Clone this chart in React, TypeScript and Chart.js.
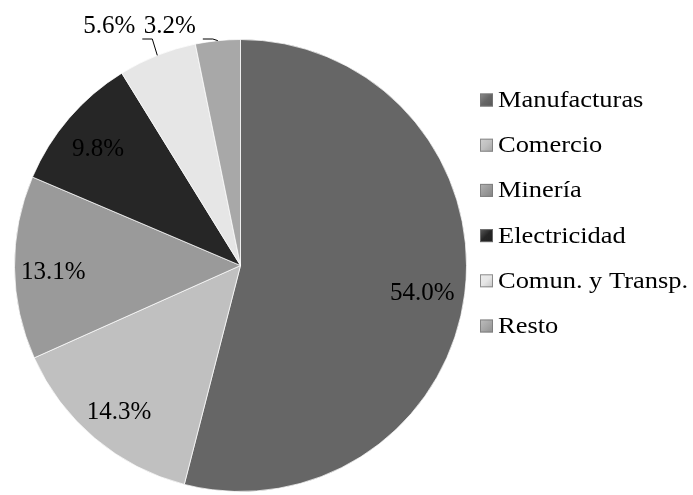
import React, { useEffect, useRef } from "react";
import { Chart, registerables } from "chart.js";

Chart.register(...registerables);

const categories = ["Manufacturas", "Comercio", "Minería", "Electricidad", "Comun. y Transp.", "Resto"];
const shares = [54.0, 14.3, 13.1, 9.8, 5.6, 3.2];
const sliceColors = ["#666666", "#c0c0c0", "#9a9a9a", "#262626", "#e6e6e6", "#a8a8a8"];

const FONT_FAMILY = "'Times New Roman', 'Liberation Serif', Tinos, serif";

function shade(hex: string, amt: number): string {
  const n = parseInt(hex.slice(1), 16);
  const f = (c: number) => Math.max(0, Math.min(255, Math.round(c + (amt > 0 ? (255 - c) * amt : c * amt))));
  const r = f((n >> 16) & 255), g = f((n >> 8) & 255), b = f(n & 255);
  return `rgb(${r},${g},${b})`;
}

const labelPlugin = {
  id: "pctLabels",
  afterDatasetsDraw(chart: any) {
    const ctx = chart.ctx;
    const meta = chart.getDatasetMeta(0);
    const data = chart.data.datasets[0].data as number[];
    ctx.save();
    ctx.font = "25px " + FONT_FAMILY;
    ctx.fillStyle = "#000";
    ctx.textBaseline = "middle";
    meta.data.forEach((arc: any, i: number) => {
      const { x, y, startAngle, endAngle, outerRadius } = arc.getProps(["x", "y", "startAngle", "endAngle", "outerRadius"], true);
      const mid = (startAngle + endAngle) / 2;
      const txt = data[i].toFixed(1) + "%";
      if (data[i] >= 7) {
        const r = outerRadius * 0.82;
        ctx.textAlign = "center";
        ctx.fillText(txt, x + Math.cos(mid) * r - 2, y + Math.sin(mid) * r + 5);
      } else {
        const px = x + Math.cos(mid) * outerRadius;
        const py = y + Math.sin(mid) * outerRadius;
        const ey = y - outerRadius - 0.5;
        const ex = px - 5;
        const endX = ex - 10;
        ctx.strokeStyle = "#000";
        ctx.lineWidth = 1;
        ctx.beginPath();
        ctx.moveTo(px, py);
        ctx.lineTo(ex, ey);
        ctx.lineTo(endX, ey);
        ctx.stroke();
        ctx.textAlign = "right";
        ctx.fillText(txt, endX - 7, ey - 13);
      }
    });
    ctx.restore();
  },
};

const legendPlugin = {
  id: "sideLegend",
  afterDraw(chart: any) {
    const ctx = chart.ctx;
    const labels = chart.data.labels as string[];
    const top = 100;
    const step = 45.2;
    ctx.save();
    labels.forEach((lab, i) => {
      const cy = top + i * step;
      const sx = 480, sz = 13;
      const g = ctx.createLinearGradient(sx, cy - sz / 2, sx + sz, cy + sz / 2);
      g.addColorStop(0, shade(sliceColors[i], 0.25));
      g.addColorStop(0.5, sliceColors[i]);
      g.addColorStop(1, shade(sliceColors[i], -0.15));
      ctx.fillStyle = g;
      ctx.fillRect(sx, cy - sz / 2, sz, sz);
      ctx.strokeStyle = "rgba(120,120,120,0.8)";
      ctx.lineWidth = 1;
      ctx.strokeRect(sx + 0.5, cy - sz / 2 + 0.5, sz - 1, sz - 1);
      ctx.save();
      ctx.translate(498, cy);
      ctx.scale(1.15, 1);
      ctx.font = "23px " + FONT_FAMILY;
      ctx.fillStyle = "#000";
      ctx.textAlign = "left";
      ctx.textBaseline = "middle";
      ctx.fillText(lab, 0, 1);
      ctx.restore();
    });
    ctx.restore();
  },
};

export default function App() {
  const ref = useRef<HTMLCanvasElement | null>(null);
  useEffect(() => {
    if (!ref.current) return;
    const chart = new Chart(ref.current, {
      type: "pie",
      data: {
        labels: categories,
        datasets: [
          {
            data: shares,
            backgroundColor: (c: any) => {
              const i = c.dataIndex;
              const base = sliceColors[i];
              const el = c.element;
              if (!el || !c.chart.chartArea) return base;
              const { x, y, outerRadius } = el.getProps(["x", "y", "outerRadius"], true);
              if (!outerRadius) return base;
              const g = c.chart.ctx.createRadialGradient(x, y, 0, x, y, outerRadius);
              g.addColorStop(0, base);
              g.addColorStop(0.92, base);
              g.addColorStop(0.97, shade(base, 0.25));
              g.addColorStop(1, shade(base, 0.05));
              return g;
            },
            borderColor: "rgba(255,255,255,0.7)",
            borderWidth: 1,
          },
        ],
      },
      options: {
        responsive: false,
        animation: false,
        layout: { padding: { top: 39, bottom: 3, left: 14, right: 226 } },
        plugins: {
          legend: { display: false },
          tooltip: { enabled: false },
        },
      },
      plugins: [labelPlugin, legendPlugin],
    });
    let alive = true;
    const redraw = () => { if (alive) chart.draw(); };
    if ((document as any).fonts) {
      (document as any).fonts.ready.then(redraw);
    }
    const t = setTimeout(redraw, 50);
    return () => { alive = false; clearTimeout(t); chart.destroy(); };
  }, []);
  return (
    <div style={{ position: "fixed", left: 0, top: 0, width: 693, height: 495, background: "#fff" }}>
      <canvas ref={ref} width={693} height={495} style={{ width: 693, height: 495, display: "block" }} />
    </div>
  );
}
